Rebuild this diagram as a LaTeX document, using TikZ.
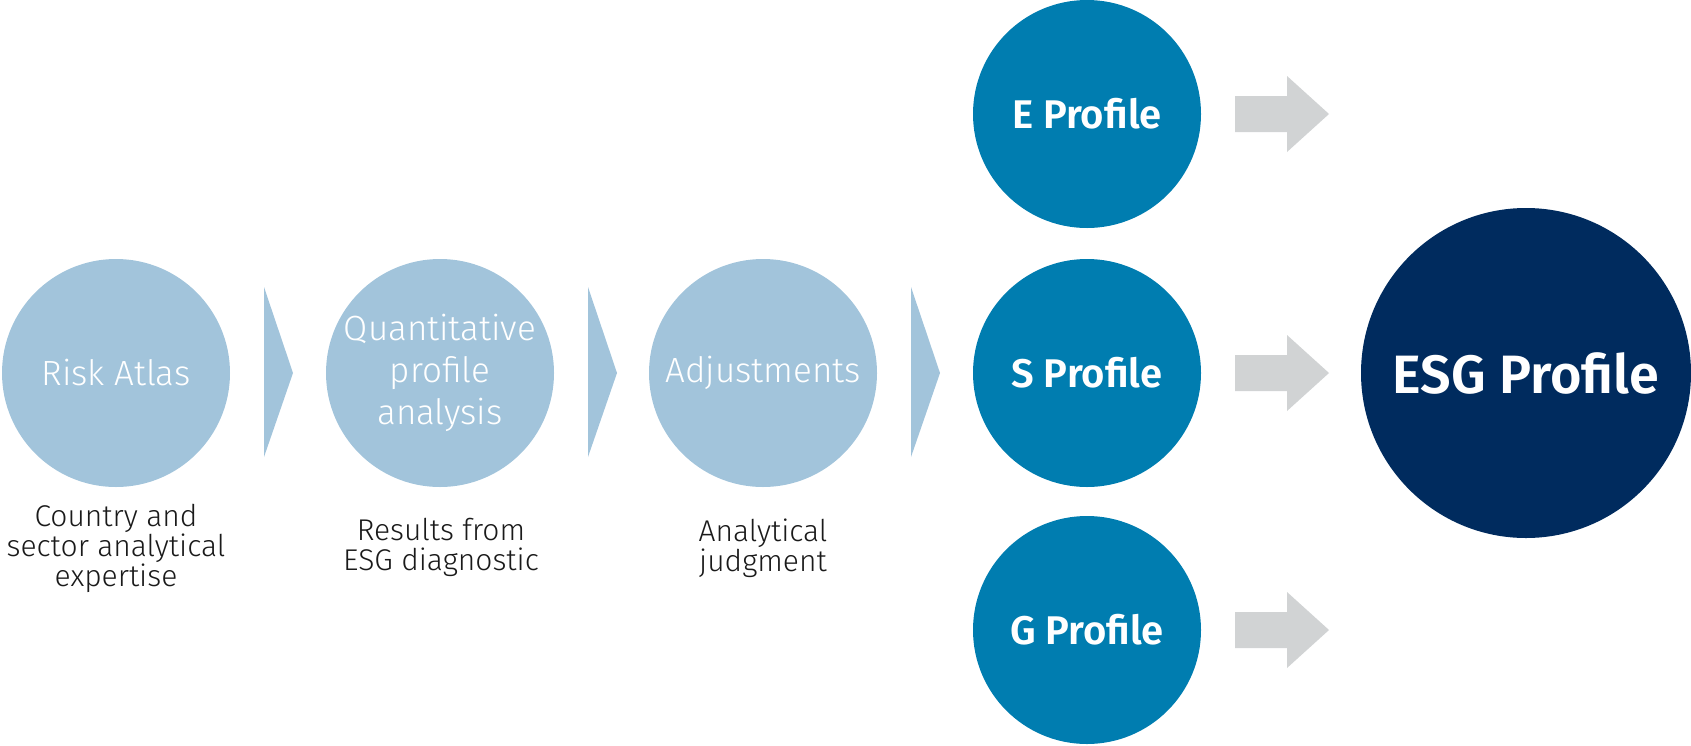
\documentclass[tikz,border=0pt]{standalone}
\usepackage{fontspec}
\setmainfont{Fira Sans}
\newfontfamily\lightfont{Fira Sans Light}
\newfontfamily\boldfont{Fira Sans SemiBold}
\definecolor{lightblue}{HTML}{A2C4DB}
\definecolor{midblue}{HTML}{007DB0}
\definecolor{navy}{HTML}{002B5E}
\definecolor{arrowgray}{HTML}{D1D3D4}
\definecolor{captext}{HTML}{1A1A1A}
\begin{document}
\begin{tikzpicture}[x=1pt,y=-1pt,
  stepcircle/.style={circle,fill=lightblue,minimum size=228pt,inner sep=0pt,text=white,
    font=\lightfont\fontsize{35}{42}\selectfont,align=center},
  profcircle/.style={circle,fill=midblue,minimum size=228pt,inner sep=0pt,text=white,
    font=\boldfont\fontsize{40}{46}\selectfont},
  esgcircle/.style={circle,fill=navy,minimum size=330pt,inner sep=0pt,text=white,
    font=\boldfont\fontsize{54}{60}\selectfont},
  caption/.style={text=captext,font=\lightfont\fontsize{30}{30}\selectfont,align=center},
  chev/.style={fill=lightblue},
  grayarrow/.style={fill=arrowgray}]
\useasboundingbox (0,0) rectangle (1691,745);
\node[stepcircle] (risk) at (116,373) {Risk Atlas};
\node[stepcircle] (quant) at (440,373) {Quantitative\\profile\\analysis};
\node[stepcircle] (adj) at (763,373) {Adjustments};
\node[profcircle] (e) at (1087,114) {E Profile};
\node[profcircle] (s) at (1087,373) {S Profile};
\node[profcircle] (g) at (1087,630) {G Profile};
\node[esgcircle] (esg) at (1526,373) {ESG Profile};
\node[caption,anchor=north] (cap1) at (116,501) {Country and\\sector analytical\\expertise};
\node[caption,anchor=north] (cap2) at (441,515) {Results from\\ESG diagnostic};
\node[caption,anchor=north] (cap3) at (763,515) {Analytical\\judgment};
% chevrons between step circles
\foreach \x in {264,588,911}{
  \fill[chev] (\x,287) -- (\x+29,373) -- (\x,457) -- cycle;
}
% gray block arrows
\foreach \n in {e,s,g}{
  \path (\n.center) coordinate (c\n);
  \fill[grayarrow] ([shift={(148,-18)}]c\n) -- ([shift={(200,-18)}]c\n) -- ([shift={(200,-38)}]c\n)
    -- ([shift={(242,0)}]c\n) -- ([shift={(200,38)}]c\n) -- ([shift={(200,18)}]c\n)
    -- ([shift={(148,18)}]c\n) -- cycle;
}
\end{tikzpicture}
\end{document}
